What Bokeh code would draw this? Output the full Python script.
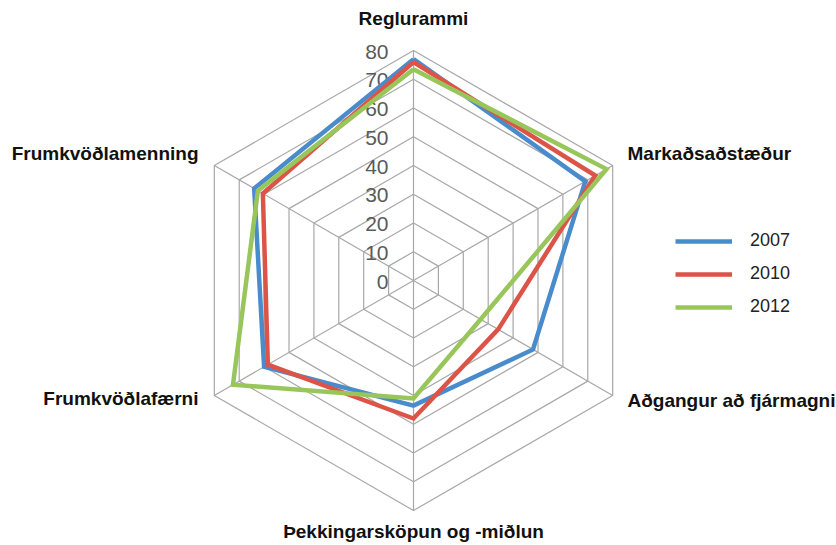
import numpy as np
from bokeh.plotting import figure
from bokeh.models import Range1d, Legend, LegendItem
from bokeh.core.properties import value
from bokeh.embed import file_html
from bokeh.resources import INLINE

# ---- data ----
categories = ["Reglurammi", "Markaðsaðstæður", "Aðgangur að fjármagni",
              "Þekkingarsköpun og -miðlun", "Frumkvöðlafærni", "Frumkvöðlamenning"]
years = ["2007", "2010", "2012"]
v2007 = [77, 69, 48, 43.5, 60, 64]
v2010 = [76, 73, 34, 48, 58.5, 60.5]
v2012 = [73.5, 77.5, 27, 41, 72.5, 62.5]
tick_values = [0, 10, 20, 30, 40, 50, 60, 70, 80]
tick_labels = ["0", "10", "20", "30", "40", "50", "60", "70", "80"]

series = [v2007, v2010, v2012]
colors = ["#4A8CCB", "#DC5448", "#98C65A"]

# ---- geometry ----
W, H = 836, 545
CX, CY = 413, 280          # centre in canvas px
S = 2.875                   # px per unit
angles = np.deg2rad([90, 30, -30, -90, -150, 150])

p = figure(width=W, height=H, output_backend="svg", toolbar_location=None,
           x_range=Range1d(-CX / S, (W - CX) / S),
           y_range=Range1d(-(H - CY) / S, CY / S),
           x_axis_type=None, y_axis_type=None, min_border=0)
p.xgrid.visible = False
p.ygrid.visible = False
p.outline_line_color = None
p.background_fill_color = "white"

def polar(vals):
    v = np.asarray(vals, dtype=float)
    return v * np.cos(angles), v * np.sin(angles)

# grid rings
ring_xs, ring_ys = [], []
for t in tick_values[1:]:
    x, y = polar([t] * 6)
    ring_xs.append(list(x) + [x[0]])
    ring_ys.append(list(y) + [y[0]])
p.multi_line(ring_xs, ring_ys, line_color="#A8A8A8", line_width=1.2)
# spokes
ox, oy = polar([tick_values[-1]] * 6)
p.multi_line([[0, x] for x in ox], [[0, y] for y in oy], line_color="#A8A8A8", line_width=1.2)

# tick labels
p.text(x=[0] * len(tick_values), y=tick_values, text=tick_labels,
       x_offset=-25, y_offset=1, text_align="right", text_baseline="middle",
       text_font=value("Liberation Sans"), text_font_size="21px", text_color="#5A5A5A")

# series
items = []
for vals, col, yr in zip(series, colors, years):
    x, y = polar(vals)
    r = p.line(list(x) + [x[0]], list(y) + [y[0]], line_color=col, line_width=4.5,
               line_join="miter")
    items.append(LegendItem(label=yr, renderers=[r]))

# category labels (offsets of label centres from chart centre in px)
lab_dx = [0, 214, 214, 0, -215, -215]
lab_dy = [262, 127, -120, -251, -118, 127]
lab_align = ["center", "left", "left", "center", "right", "right"]
for c, dx, dy, al in zip(categories, lab_dx, lab_dy, lab_align):
    p.text(x=[dx / S], y=[dy / S], text=[c], text_align=al, text_baseline="middle",
           text_font=value("Liberation Sans"), text_font_style="bold",
           text_font_size="19px", text_color="#111111")

legend = Legend(items=items, location=(675, 228), orientation="vertical",
                glyph_width=57, glyph_height=20, label_height=20, spacing=12,
                label_standoff=18, padding=0, margin=0,
                border_line_color=None, background_fill_alpha=0,
                label_text_font="Liberation Sans", label_text_font_size="18px",
                label_text_color="#222222")
p.add_layout(legend)

open("out.html", "w").write(file_html(p, INLINE))
